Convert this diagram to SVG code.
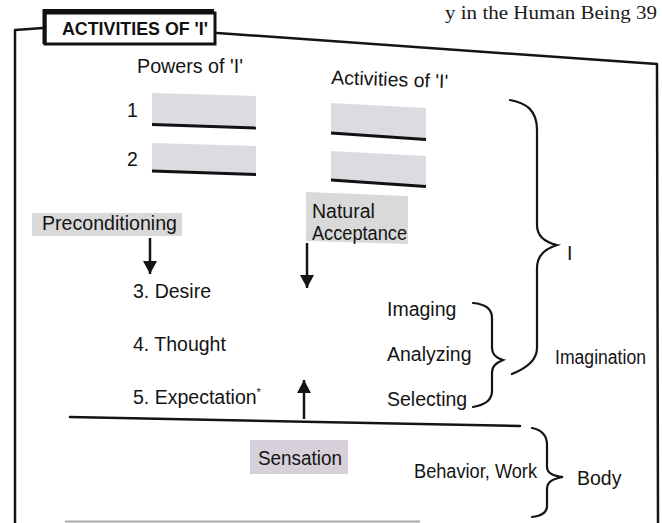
<svg xmlns="http://www.w3.org/2000/svg" width="662" height="523" viewBox="0 0 662 523">
<defs>
<style>
.t{font-family:"Liberation Sans",Arial,Helvetica,sans-serif;font-size:19.5px;fill:#141414}
.hd{font-family:"Liberation Serif","Times New Roman",serif;font-size:19px;fill:#1a1a1a}
.ttl{font-family:"Liberation Sans",Arial,sans-serif;font-size:18.5px;font-weight:bold;fill:#111}
.ln{stroke:#141414;stroke-width:2.5;fill:none;stroke-linecap:round;stroke-linejoin:round}
.ul{stroke:#111;stroke-width:3;fill:none}
.br{stroke:#141414;stroke-width:2.2;fill:none;stroke-linecap:round}
.gbox{fill:#dcdbe2}
.pbox{fill:#d9d9da}
.sbox{fill:#d7d0da}
.arr{stroke:#141414;stroke-width:2.5;fill:none}
</style>
<marker id="ah" markerUnits="userSpaceOnUse" markerWidth="14" markerHeight="14" refX="13" refY="7" orient="auto">
<path d="M0,0 L13,7 L0,14 Z" fill="#141414"/>
</marker>
</defs>
<rect width="662" height="523" fill="#ffffff"/>

<g id="page-header"><text class="hd" x="445" y="19" textLength="212" lengthAdjust="spacingAndGlyphs">y in the Human Being 39</text></g>

<g id="frame">
<path class="ln" d="M15,523 L15,30 L43,28"/>
<path class="ln" d="M217,33 L657,64 L658,523"/>
<path d="M65,521.5 L420,521.5" stroke="#a9a9a9" stroke-width="2" fill="none"/>
</g>

<g id="title">
<rect x="45" y="13" width="170" height="31" fill="#ffffff" stroke="#111" stroke-width="3"/>
<path d="M44.5,44 L44.5,11 L214,11" stroke="#111" stroke-width="4" fill="none"/>
<text class="ttl" x="62" y="35" textLength="146" lengthAdjust="spacingAndGlyphs">ACTIVITIES OF 'I'</text>
</g>

<g id="powers-heading"><text class="t" x="137" y="73" textLength="106" lengthAdjust="spacingAndGlyphs">Powers of 'I'</text></g>
<g id="activities-heading"><text class="t" x="331" y="86" textLength="117" lengthAdjust="spacingAndGlyphs" transform="rotate(2 390 86)">Activities of 'I'</text></g>

<g id="power-1">
<text class="t" x="127" y="117">1</text>
<polygon class="gbox" points="152,93 256,96 256,127 152,124"/>
<path class="ul" d="M152,124.5 L256,128"/>
</g>
<g id="power-2">
<text class="t" x="127" y="166">2</text>
<polygon class="gbox" points="152,143 256,146 256,174 152,171"/>
<path class="ul" d="M152,171 L256,174.5"/>
</g>
<g id="activity-1">
<polygon class="gbox" points="331,103 426,108 426,139 331,133"/>
<path class="ul" d="M331,133 L426,139.5"/>
</g>
<g id="activity-2">
<polygon class="gbox" points="331,151 426,156 426,186 331,180"/>
<path class="ul" d="M331,180 L426,186.5"/>
</g>

<g id="preconditioning">
<rect class="pbox" x="32" y="213" width="150" height="23"/>
<text class="t" x="42" y="230" textLength="135" lengthAdjust="spacingAndGlyphs">Preconditioning</text>
</g>

<g id="natural-acceptance">
<polygon class="pbox" points="306,192 408,196 408,244 306,241"/>
<text class="t" x="312" y="218">Natural</text>
<text class="t" x="312" y="240" textLength="95" lengthAdjust="spacingAndGlyphs">Acceptance</text>
</g>

<g id="desire"><text class="t" x="133" y="298">3. Desire</text></g>
<g id="thought"><text class="t" x="133" y="351">4. Thought</text></g>
<g id="expectation"><text class="t" x="133" y="404">5. Expectation<tspan font-size="11" dy="-8">*</tspan></text></g>

<g id="imaging"><text class="t" x="387" y="316">Imaging</text></g>
<g id="analyzing"><text class="t" x="387" y="361">Analyzing</text></g>
<g id="selecting"><text class="t" x="387" y="406">Selecting</text></g>
<g id="imagination"><text class="t" x="555" y="364" textLength="91" lengthAdjust="spacingAndGlyphs">Imagination</text></g>
<g id="i-label"><text class="t" x="567" y="260">I</text></g>

<g id="separator"><path class="ln" d="M70,417 L520,426"/></g>

<g id="sensation">
<rect class="sbox" x="250" y="440" width="98" height="34"/>
<text class="t" x="258" y="465" textLength="84" lengthAdjust="spacingAndGlyphs">Sensation</text>
</g>
<g id="behavior-work"><text class="t" x="414" y="478" textLength="123" lengthAdjust="spacingAndGlyphs">Behavior, Work</text></g>
<g id="body"><text class="t" x="577" y="485">Body</text></g>

<g id="braces">
<path class="br" d="M510,100 C526,103 537,110 537,130 L537,225 C537,236 544,242 557,245 C544,249 537,256 537,268 L537,348 C537,360 527,368 512,374"/>
<path class="br" d="M473,303 C485,304 492,308 492,318 L492,348 C492,355 496,358 503,360 C496,363 492,366 492,373 L492,391 C492,400 485,405 473,407"/>
<path class="br" d="M532,428 C542,430 547,435 547,445 L547,467 C547,473 552,476 563,477 C552,479 547,482 547,489 L547,506 C547,513 541,516 532,517"/>
</g>

<g id="connectors">
<path class="arr" d="M150,238 L150,274" marker-end="url(#ah)"/>
<path class="arr" d="M307,243 L307,288" marker-end="url(#ah)"/>
<path class="arr" d="M304,419 L304,380" marker-end="url(#ah)"/>
</g>
</svg>
